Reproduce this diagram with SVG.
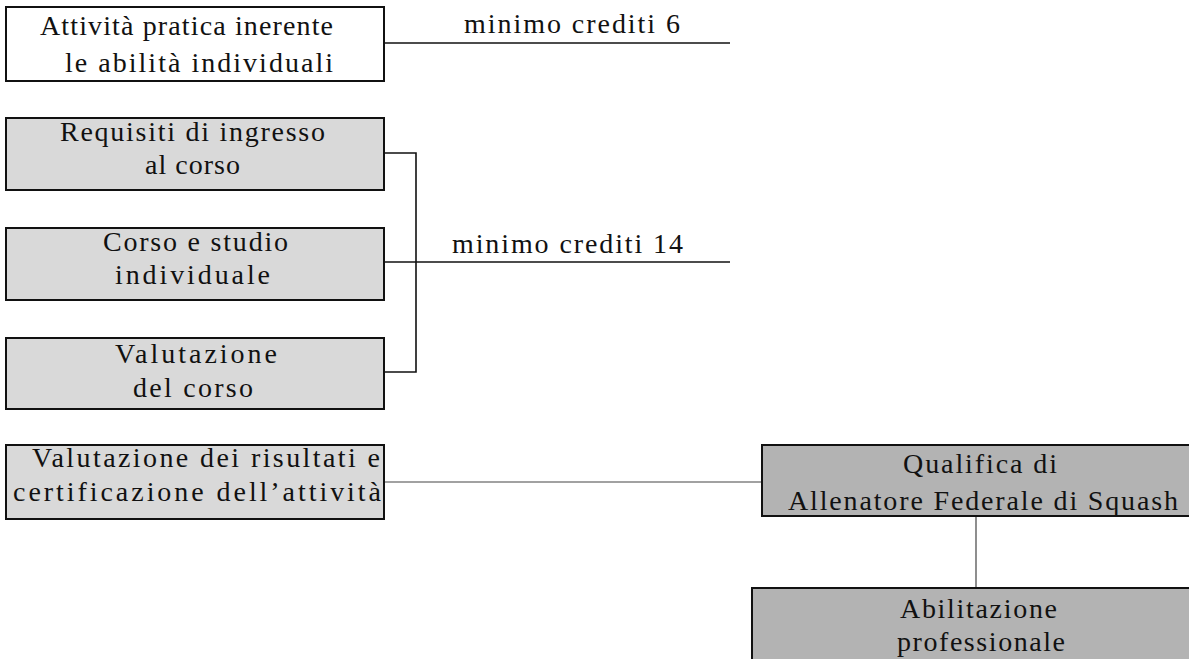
<svg xmlns="http://www.w3.org/2000/svg" width="1189" height="659" viewBox="0 0 1189 659">
<style>
.box{stroke:#111;stroke-width:2}
.w{fill:#fff}
.g{fill:#d9d9d9}
.d{fill:#b3b3b3}
text{font-family:"Liberation Serif","DejaVu Serif",serif;font-size:28px;fill:#111}
.c{stroke:#111;stroke-width:1.6;fill:none}
.c2{stroke:#444;stroke-width:1.2;fill:none}
</style>
<g id="connectors">
<path class="c" d="M384 43H730"/>
<path class="c" d="M384 153H416V372H384"/>
<path class="c" d="M384 262H730"/>
<path class="c2" d="M384 482H762"/>
<path class="c2" d="M976 516V588"/>
<text x="464" y="33" textLength="216">minimo crediti 6</text>
<text x="452" y="253" textLength="231">minimo crediti 14</text>
</g>
<g id="n1"><rect class="box w" x="6" y="7" width="378" height="74"/><text x="40" y="35" textLength="293">Attività pratica inerente</text><text x="65" y="72" textLength="268">le abilità individuali</text></g>
<g id="n2"><rect class="box g" x="6" y="118" width="378" height="72"/><text x="60" y="141" textLength="265">Requisiti di ingresso</text><text x="145" y="174" textLength="95">al corso</text></g>
<g id="n3"><rect class="box g" x="6" y="228" width="378" height="72"/><text x="103" y="251" textLength="185">Corso e studio</text><text x="115" y="284" textLength="155">individuale</text></g>
<g id="n4"><rect class="box g" x="6" y="338" width="378" height="71"/><text x="115" y="363" textLength="162">Valutazione</text><text x="133" y="397" textLength="120">del corso</text></g>
<g id="n5"><rect class="box g" x="6" y="445" width="378" height="74"/><text x="32" y="467" textLength="348">Valutazione dei risultati e</text><text x="13" y="501" textLength="368">certificazione dell’attività</text></g>
<g id="n6"><rect class="box d" x="762" y="445" width="440" height="71"/><text x="903" y="473" textLength="154">Qualifica di</text><text x="788" y="510" textLength="390">Allenatore Federale di Squash</text></g>
<g id="n7"><rect class="box d" x="752" y="588" width="450" height="80"/><text x="900" y="618" textLength="157">Abilitazione</text><text x="897" y="651" textLength="168">professionale</text></g>
</svg>
